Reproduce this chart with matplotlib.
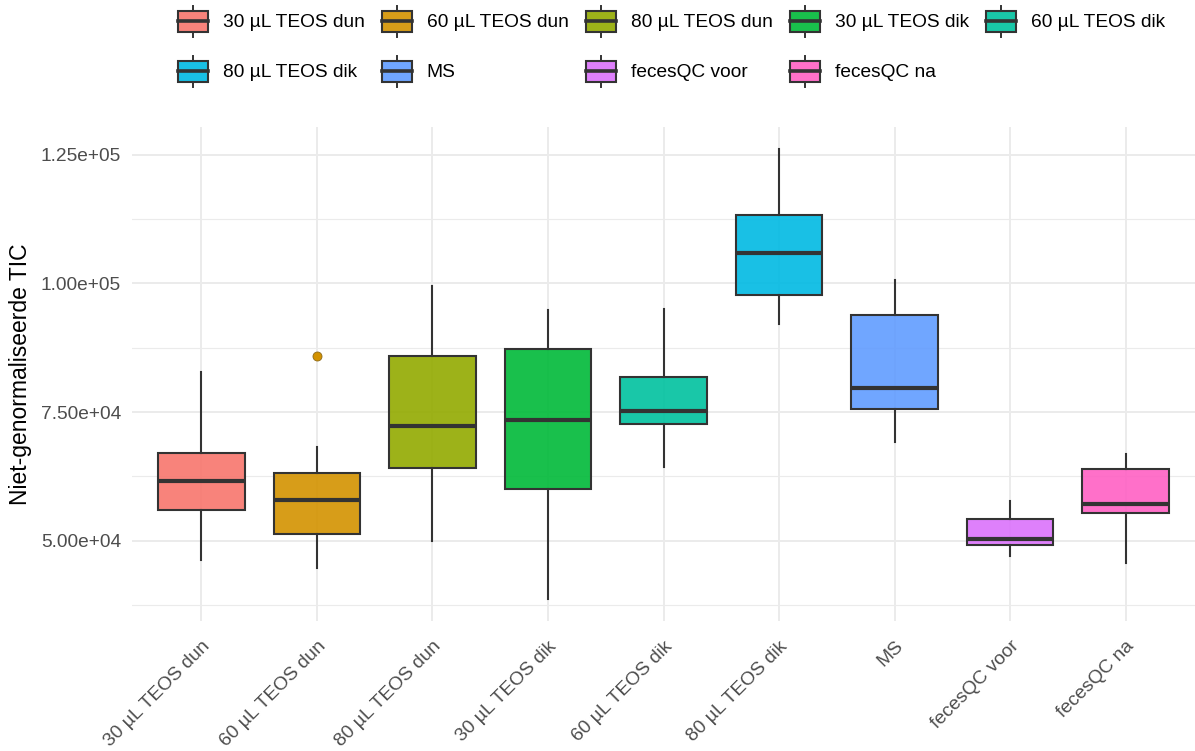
import matplotlib
matplotlib.use("Agg")
import matplotlib.pyplot as plt
from matplotlib.patches import Patch, Rectangle
from matplotlib.lines import Line2D
from matplotlib.legend_handler import HandlerBase
from matplotlib.ticker import FixedLocator, FuncFormatter

plt.rcParams['font.family'] = ['Liberation Sans', 'DejaVu Sans']

groups = ["30 µL TEOS dun", "60 µL TEOS dun", "80 µL TEOS dun",
          "30 µL TEOS dik", "60 µL TEOS dik", "80 µL TEOS dik",
          "MS", "fecesQC voor", "fecesQC na"]
colors = ["#F8766D", "#D39200", "#93AA00", "#00BA38", "#00C19F",
          "#00B9E3", "#619CFF", "#DB72FB", "#FF61C3"]

# box statistics
whislo = [46300, 44800, 50060, 38680, 64430, 92090, 69290, 47150, 45670]
q1 = [56000, 51360, 64240, 60160, 72660, 97650, 75640, 49220, 55380]
med = [61650, 57900, 72300, 73450, 75120, 105880, 79590, 50450, 57130]
q3 = [67100, 63150, 85900, 87350, 81900, 113330, 93770, 54210, 63990]
whishi = [82830, 68300, 99500, 94900, 95070, 126090, 100560, 57830, 66900]
fliers = [[], [85800], [], [], [], [], [], [], []]

edge = "#333333"
grid_col = "#EBEBEB"
fs = 13.8


class BoxKey(HandlerBase):
    def create_artists(self, legend, orig_handle, xdescent, ydescent,
                       width, height, fontsize, trans):
        x0, y0 = -xdescent, -ydescent
        cx = x0 + width / 2
        lo, hi = y0 + 0.17 * height, y0 + 0.83 * height
        wlo = Line2D([cx, cx], [y0, lo], color=edge, lw=1.4, transform=trans)
        whi = Line2D([cx, cx], [hi, y0 + height], color=edge, lw=1.4, transform=trans)
        rect = Rectangle((x0, lo), width, hi - lo, facecolor=orig_handle.get_facecolor(),
                         edgecolor=edge, lw=1.5, transform=trans)
        mid = Line2D([x0, x0 + width], [(lo + hi) / 2] * 2, color=edge, lw=2.6,
                     transform=trans)
        return [wlo, whi, rect, mid]


fig = plt.figure(figsize=(11.95, 7.51), dpi=100)
ax = fig.add_axes([132 / 1195, 1 - 621 / 751, (1195 - 132) / 1195, (621 - 127) / 751])

stats = []
for i, g in enumerate(groups):
    stats.append(dict(label=g, whislo=whislo[i], q1=q1[i], med=med[i],
                      q3=q3[i], whishi=whishi[i], fliers=fliers[i]))

pos = list(range(1, len(groups) + 1))
bp = ax.bxp(stats, positions=pos, widths=0.75, patch_artist=True, showcaps=False,
            boxprops=dict(edgecolor=edge, linewidth=1.5),
            whiskerprops=dict(color=edge, linewidth=1.5),
            medianprops=dict(color=edge, linewidth=3.0, solid_capstyle='butt'),
            flierprops=dict(marker='o', markersize=6.5, markerfacecolor=colors[1],
                            markeredgecolor='#8C6A1A', markeredgewidth=0.6))
for patch, c in zip(bp['boxes'], colors):
    patch.set_facecolor(matplotlib.colors.to_rgba(c, 0.9))
for fl, c in zip(bp['fliers'], colors):
    fl.set_markerfacecolor(c)

ax.set_xlim(0.4, len(groups) + 0.6)
ax.set_ylim(34440, 130360)
ax.yaxis.set_major_locator(FixedLocator([50000, 75000, 100000, 125000]))
ax.yaxis.set_minor_locator(FixedLocator([37500, 62500, 87500, 112500]))
ax.yaxis.set_major_formatter(FuncFormatter(lambda v, p: f"{v:.2e}"))
ax.set_xticks(pos)
ax.set_xticklabels(groups, rotation=45, ha='right', va='top', rotation_mode='anchor')

ax.grid(True, which='major', color=grid_col, linewidth=1.4)
ax.grid(True, which='minor', axis='y', color=grid_col, linewidth=0.8)
ax.set_axisbelow(True)
for s in ax.spines.values():
    s.set_visible(False)
ax.tick_params(axis='both', which='both', length=0, labelsize=fs, labelcolor='#4D4D4D')
ax.tick_params(axis='y', pad=8)
ax.tick_params(axis='x', pad=12)

ax.set_ylabel("Niet-genormaliseerde TIC", fontsize=16.5, color='black')
ax.yaxis.set_label_coords(-0.094, 0.5)

# legend fills column by column, so reorder to read row by row
ncol = 5
order = [0, 5, 1, 6, 2, 7, 3, 8, 4]
handles = [Patch(facecolor=matplotlib.colors.to_rgba(colors[i], 0.9)) for i in order]
labels = [groups[i] for i in order]
fig.legend(handles, labels, handler_map={Patch: BoxKey()}, loc='upper left',
           bbox_to_anchor=(178 / 1195, 1 - 6 / 751), ncol=ncol, frameon=False,
           fontsize=fs, handlelength=1.56, handleheight=2.1, handletextpad=0.78,
           columnspacing=0.9, labelspacing=1.0, borderpad=0, borderaxespad=0)

fig.savefig("out.png", dpi=100)
